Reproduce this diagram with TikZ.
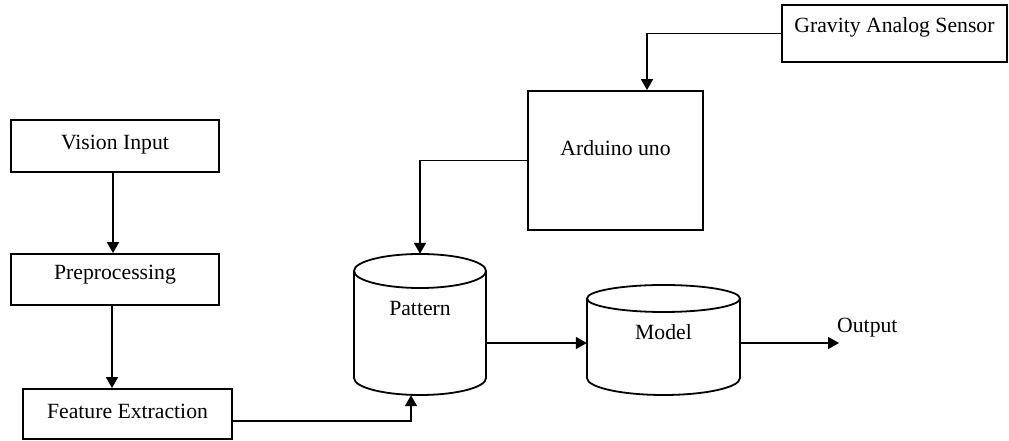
\documentclass[tikz,border=0pt]{standalone}
\usepackage{fontspec}
\setmainfont{Liberation Serif}
\usetikzlibrary{arrows.meta}
\begin{document}
\begin{tikzpicture}[x=1pt,y=1pt,
  every node/.style={font=\fontsize{21.7}{26}\selectfont},
  box/.style={draw, line width=1.8pt, inner sep=0pt, text height=15pt, text depth=#1},
  box/.default=5pt,
  ghost/.style={inner sep=0pt},
  lin/.style={line width=1.8pt},
  arr/.style={line width=1.7pt, -{Triangle[length=11pt,width=12pt]}}]
\useasboundingbox (0,0) rectangle (1009,441);
% boxes
\node[box=8pt, minimum width=208pt, minimum height=52pt] (vision) at (115,295) {Vision Input};
\node[box=15pt, minimum width=208pt, minimum height=51pt] (prep) at (115,161.5) {Preprocessing};
\node[box=6pt, minimum width=209pt, minimum height=50pt] (feat) at (127.5,27) {Feature Extraction};
\node[box=24pt, minimum width=175pt, minimum height=139pt] (ard) at (615.5,280.5) {Arduino uno};
\node[box=17pt, minimum width=225pt, minimum height=57pt] (grav) at (894.5,407.5) {Gravity Analog Sensor};
% cylinders
\node[ghost, minimum width=132pt, minimum height=141pt] (pattern) at (420,116.5) {};
\draw[lin] (420,170) ellipse[x radius=66, y radius=17];
\draw[lin] (354,170) -- (354,63) arc[start angle=180, end angle=360, x radius=66, y radius=17] -- (486,170);
\node[anchor=base] (ptxt) at (420,125) {Pattern};
\node[ghost, minimum width=153pt, minimum height=110pt] (model) at (663.5,101) {};
\draw[lin] (663.5,142.5) ellipse[x radius=76.5, y radius=13.5];
\draw[lin] (587,142.5) -- (587,63) arc[start angle=180, end angle=360, x radius=76.5, y radius=17] -- (740,142.5);
\node[anchor=base] (mtxt) at (663.5,101) {Model};
% output
\coordinate (out) at (839,98);
\node[anchor=base west, inner sep=0pt] (output) at (837,108) {Output};
% connectors
\draw[arr] ([xshift=-2pt]vision.south) -- ([xshift=-2pt]vision.south |- prep.north);
\draw[arr] ([xshift=-3pt]prep.south) -- ([xshift=-3pt]prep.south |- feat.north);
\draw[arr] ([yshift=-7pt]feat.east) -| ([xshift=-9pt]pattern.south);
\draw[arr] (ard.west) -| (pattern.north);
\draw[arr] (grav.west) -| ([xshift=31.5pt]ard.north);
\draw[arr] (pattern.east |- out) -- (model.west |- out);
\draw[arr] (model.east |- out) -- (out);
\end{tikzpicture}
\end{document}
